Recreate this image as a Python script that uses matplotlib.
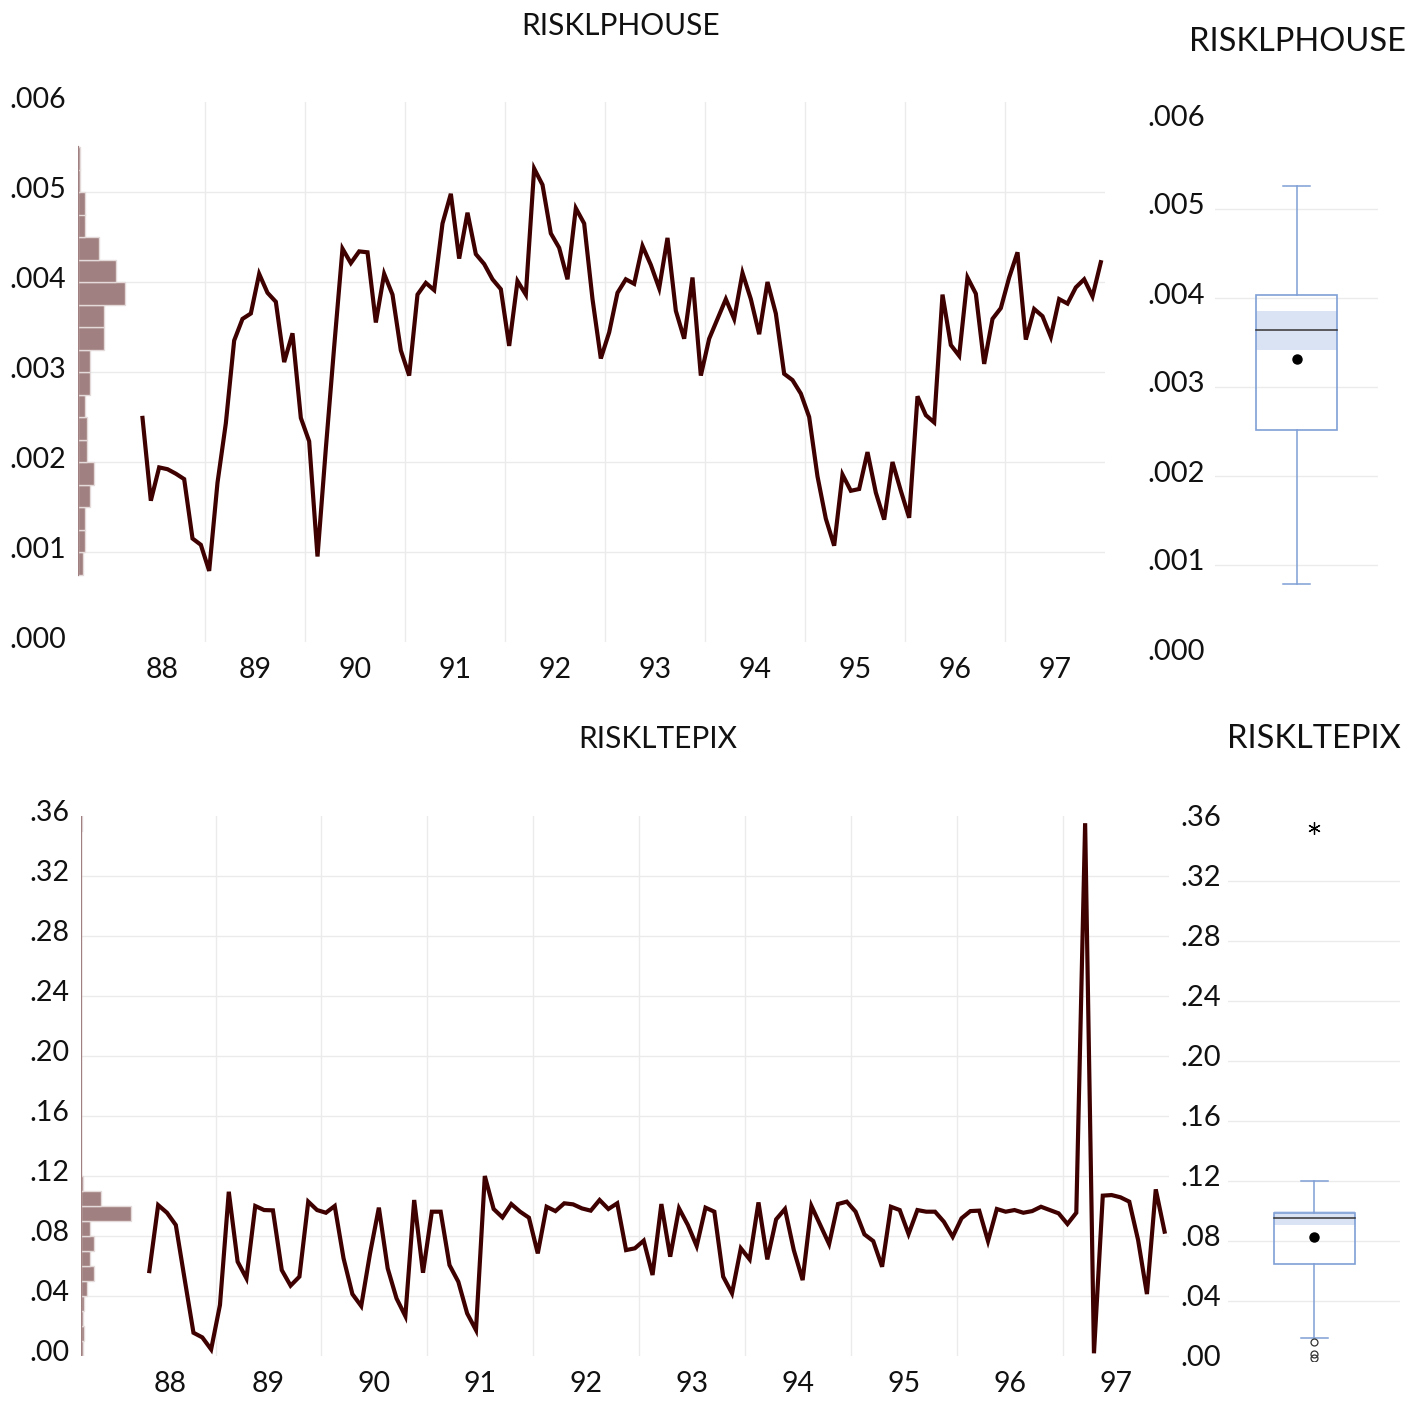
import numpy as np
import matplotlib
matplotlib.use('Agg')
import matplotlib.pyplot as plt
from matplotlib import cbook
from matplotlib.patches import Rectangle
from matplotlib.transforms import ScaledTranslation

plt.rcParams['font.family'] = ['Lato', 'DejaVu Sans']

# ---------------- data (monthly, 1988:05 - 1997:12) ----------------
start_year = 1988
start_month = 5

risklphouse = [
    # 1988 May-Dec
    0.00249, 0.00157, 0.00194, 0.00192, 0.00187, 0.00181, 0.00115, 0.00108,
    # 1989
    0.00079, 0.00177, 0.00243, 0.00335, 0.00359, 0.00365, 0.00409, 0.00388, 0.00378, 0.00311, 0.00343, 0.00249,
    # 1990
    0.00223, 0.00095, 0.00215, 0.00328, 0.00437, 0.00421, 0.00434, 0.00433, 0.00355, 0.00409, 0.00386, 0.00324,
    # 1991
    0.00296, 0.00386, 0.00399, 0.00391, 0.00465, 0.00498, 0.00426, 0.00477, 0.00431, 0.00420, 0.00403, 0.00392,
    # 1992
    0.00329, 0.00401, 0.00386, 0.00526, 0.00508, 0.00454, 0.00438, 0.00403, 0.00482, 0.00465, 0.00381, 0.00315,
    # 1993
    0.00344, 0.00388, 0.00403, 0.00398, 0.00440, 0.00419, 0.00393, 0.00449, 0.00368, 0.00337, 0.00405, 0.00296,
    # 1994
    0.00337, 0.00359, 0.00381, 0.00359, 0.00410, 0.00381, 0.00342, 0.00400, 0.00365, 0.00298, 0.00291, 0.00276,
    # 1995
    0.00250, 0.00184, 0.00137, 0.00107, 0.00186, 0.00168, 0.00170, 0.00211, 0.00166, 0.00136, 0.00200, 0.00168,
    # 1996
    0.00138, 0.00273, 0.00252, 0.00244, 0.00386, 0.00330, 0.00318, 0.00405, 0.00387, 0.00309, 0.00359, 0.00371,
    # 1997
    0.00405, 0.00433, 0.00336, 0.00370, 0.00362, 0.00339, 0.00381, 0.00376, 0.00394, 0.00403, 0.00384, 0.00422,
]

riskltepix = [
    # 1988 May-Dec
    0.0564, 0.1004, 0.0953, 0.0871, 0.0510, 0.0153, 0.0122, 0.0042,
    # 1989
    0.0338, 0.1093, 0.0627, 0.0516, 0.0998, 0.0971, 0.0969, 0.0571, 0.0467, 0.0527, 0.1027, 0.0971,
    # 1990
    0.0953, 0.0998, 0.0649, 0.0411, 0.0331, 0.0682, 0.0987, 0.0582, 0.0382, 0.0264, 0.1038, 0.0553,
    # 1991
    0.0960, 0.0960, 0.0604, 0.0493, 0.0282, 0.0171, 0.1198, 0.0978, 0.0922, 0.1011, 0.0960, 0.0920,
    # 1992
    0.0682, 0.0993, 0.0964, 0.1016, 0.1009, 0.0982, 0.0967, 0.1038, 0.0978, 0.1016, 0.0704, 0.0716,
    # 1993
    0.0767, 0.0538, 0.1011, 0.0660, 0.0982, 0.0871, 0.0731, 0.0987, 0.0960, 0.0527, 0.0416, 0.0716,
    # 1994
    0.0642, 0.1022, 0.0642, 0.0909, 0.0978, 0.0704, 0.0504, 0.0998, 0.0871, 0.0744, 0.1011, 0.1027,
    # 1995
    0.0960, 0.0809, 0.0764, 0.0593, 0.0993, 0.0971, 0.0811, 0.0971, 0.0960, 0.0960, 0.0893, 0.0793,
    # 1996
    0.0916, 0.0964, 0.0967, 0.0764, 0.0978, 0.0960, 0.0971, 0.0953, 0.0964, 0.0993, 0.0971, 0.0949,
    # 1997
    0.0878, 0.0953, 0.3550, 0.0016, 0.1067, 0.1071, 0.1056, 0.1027, 0.0771, 0.0411, 0.1109, 0.0827,
]

year_labels = ['88', '89', '90', '91', '92', '93', '94', '95', '96', '97']
first_label_year = 1988

top_yticks = [0.000, 0.001, 0.002, 0.003, 0.004, 0.005, 0.006]
bot_yticks = [0.00, 0.04, 0.08, 0.12, 0.16, 0.20, 0.24, 0.28, 0.32, 0.36]
top_bins = np.arange(0.00075, 0.0055 + 1e-9, 0.00025)
bot_bins = np.arange(0.0, 0.36 + 1e-9, 0.01)

# ---------------- style ----------------
LINE_C = '#3f0000'
HIST_FC = '#a08080'
HIST_EC = '#e4dada'
GRID_C = '#ebebeb'
BOX_C = '#7f9fd6'
BAND_C = '#dae3f3'
TXT_C = '#111111'
TICK_FS = 20.5
BTICK_FS = 21
TITLE_FS = 21.5
BTITLE_FS = 23.5

W, H = 1424, 1401
fig = plt.figure(figsize=(W / 100, H / 100), dpi=100)
up5 = ScaledTranslation(0, 5 / 100, fig.dpi_scale_trans)


def ax_px(x0, y0, x1, y1):
    return fig.add_axes([x0 / W, 1 - y1 / H, (x1 - x0) / W, (y1 - y0) / H])


XMIN, XMAX = 1987.73, 1998.0
DATE_START = 1988.15


def fmt_tick(v, nd):
    return f"{v:.{nd}f}".lstrip('0')


def shift_ylabels(ax):
    for lab in ax.get_yticklabels():
        lab.set_transform(lab.get_transform() + up5)


def main_panel(rect, series, yticks, nd, bins, max_bar_px, title, title_xy):
    x0, y0, x1, y1 = rect
    ax = ax_px(*rect)
    vals = np.asarray(series)
    n = len(vals)
    t = start_year + (start_month - 1 + np.arange(n) + 0.5) / 12.0
    ax.set_xlim(XMIN, XMAX)
    ax.set_ylim(yticks[0], yticks[-1])
    for s in ax.spines.values():
        s.set_visible(False)
    ax.set_yticks(yticks)
    ax.set_yticklabels([fmt_tick(v, nd) for v in yticks], fontsize=TICK_FS, color=TXT_C)
    years = list(range(first_label_year + 1, first_label_year + len(year_labels)))
    ax.set_xticks(years)
    ax.set_xticklabels([''] * len(years))
    lab_pos = [(DATE_START + first_label_year + 1) / 2] + [y + 0.5 for y in years]
    ax.set_xticks(lab_pos, minor=True)
    ax.set_xticklabels(year_labels, minor=True, fontsize=TICK_FS, color=TXT_C)
    ax.tick_params(axis='both', which='both', length=0)
    ax.tick_params(axis='y', pad=8.5)
    ax.tick_params(axis='x', which='minor', pad=11)
    ax.grid(True, which='major', color=GRID_C, lw=1.0)
    ax.set_axisbelow(True)
    yt = ax.yaxis.get_major_ticks()
    yt[0].gridline.set_visible(False)
    yt[-1].gridline.set_visible(False)
    shift_ylabels(ax)
    ax.plot(t, vals, color=LINE_C, lw=3.0, solid_joinstyle='miter', zorder=3)

    # marginal histogram along the left edge
    counts, edges = np.histogram(vals, bins=bins)
    axh = ax_px(*rect)
    axh.set_ylim(yticks[0], yticks[-1])
    axw = x1 - x0
    axh.set_xlim(0, counts.max() * axw / max_bar_px)
    axh.barh(edges[:-1], counts, height=np.diff(edges), align='edge',
             color=HIST_FC, edgecolor=HIST_EC, lw=1.0)
    axh.plot([0, 0], [edges[0], edges[-1]], color=HIST_FC, lw=1.6)
    axh.axis('off')
    axh.patch.set_alpha(0)

    fig.text(title_xy[0] / W, 1 - title_xy[1] / H, title, fontsize=TITLE_FS,
             ha='center', va='center', color=TXT_C)
    return ax


def box_panel(rect, series, yticks, nd, title, title_xy, pad):
    x0, y0, x1, y1 = rect
    ax = ax_px(*rect)
    axw = x1 - x0
    vals = np.asarray(series)
    st = cbook.boxplot_stats(vals, whis=1.5)[0]
    q1, q3, med = st['q1'], st['q3'], st['med']
    iqr = q3 - q1
    cx = 0.5
    bw = 40.5 / axw
    sw = 13.5 / axw
    ax.set_xlim(0, 1)
    ax.set_ylim(yticks[0], yticks[-1])
    for s in ax.spines.values():
        s.set_visible(False)
    ax.set_xticks([])
    ax.set_yticks(yticks)
    ax.set_yticklabels([fmt_tick(v, nd) for v in yticks], fontsize=BTICK_FS, color=TXT_C)
    ax.tick_params(axis='y', length=0, pad=pad)
    ax.grid(True, axis='y', color=GRID_C, lw=1.0)
    ax.set_axisbelow(True)
    yt = ax.yaxis.get_major_ticks()
    yt[0].gridline.set_visible(False)
    yt[-1].gridline.set_visible(False)
    shift_ylabels(ax)

    ax.add_patch(Rectangle((cx - bw, st['cilo']), 2 * bw, st['cihi'] - st['cilo'],
                           facecolor=BAND_C, edgecolor='none', zorder=2))
    ax.add_patch(Rectangle((cx - bw, q1), 2 * bw, iqr, facecolor='none',
                           edgecolor=BOX_C, lw=1.2, zorder=3))
    ax.plot([cx - bw, cx + bw], [med, med], color='#333333', lw=1.1, zorder=4)
    ax.plot([cx, cx], [q3, st['whishi']], color=BOX_C, lw=1.1, zorder=3)
    ax.plot([cx, cx], [st['whislo'], q1], color=BOX_C, lw=1.1, zorder=3)
    ax.plot([cx - sw, cx + sw], [st['whishi']] * 2, color=BOX_C, lw=1.1, zorder=3)
    ax.plot([cx - sw, cx + sw], [st['whislo']] * 2, color=BOX_C, lw=1.1, zorder=3)
    ax.plot([cx], [st['mean']], 'o', color='black', ms=6.5, zorder=5)
    fl = np.asarray(st['fliers'])
    if fl.size:
        far = (fl > q3 + 3 * iqr) | (fl < q1 - 3 * iqr)
        ax.plot(np.full(far.sum(), cx), fl[far], marker=(6, 2, 0), ls='none',
                color='black', ms=9, mew=0.9, zorder=5)
        ax.plot(np.full((~far).sum(), cx), fl[~far], marker='o', ls='none',
                mfc='none', mec='#333333', ms=5, mew=0.9, zorder=5)
    fig.text(title_xy[0] / W, 1 - title_xy[1] / H, title, fontsize=BTITLE_FS,
             ha='center', va='center', color=TXT_C)
    return ax


main_panel((78, 102, 1105, 642), risklphouse, top_yticks, 3, top_bins, 47,
           'RISKLPHOUSE', (621, 26))
box_panel((1215, 120, 1378, 654), risklphouse, top_yticks, 3,
          'RISKLPHOUSE', (1297, 42), 7.5)
main_panel((81, 815.7, 1169, 1355.7), riskltepix, bot_yticks, 2, bot_bins, 50,
           'RISKLTEPIX', (658, 739))
box_panel((1228, 820.7, 1400, 1360.7), riskltepix, bot_yticks, 2,
          'RISKLTEPIX', (1314, 739), 5)

fig.savefig('out.png', dpi=100, facecolor='white')
